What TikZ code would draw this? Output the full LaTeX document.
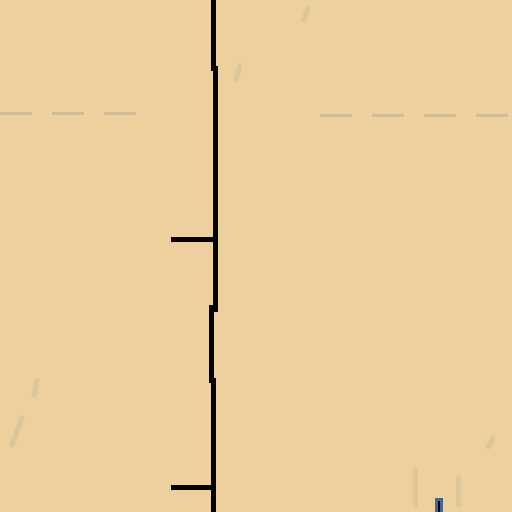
\documentclass[tikz,border=0pt]{standalone}
\usetikzlibrary{positioning}
\definecolor{mapSand}{RGB}{237, 208, 158}
\definecolor{mapFaint}{RGB}{208, 188, 150}
\definecolor{mapSmudge}{RGB}{220, 198, 156}
\definecolor{mapBlue}{RGB}{62, 104, 150}

\begin{document}
\begin{tikzpicture}[
  x=1pt, y=-1pt,
  wall/.style={line width=5pt, black},
  stub/.style={line width=5pt, black, line cap=rect},
  track/.style={line width=3pt, mapFaint, dash pattern=on 32pt off 20pt},
  smudge/.style={line width=5pt, mapSmudge, line cap=round}
]
  % ground
  \fill[mapSand] (0,0) rectangle (512,512);
  \useasboundingbox (0,0) rectangle (512,512);

  % faint tracks
  \draw[track] (0,113) -- (145,113);
  \draw[track] (320,115) -- (512,115);

  % smudges
  \draw[smudge] (236,80) -- (240,66);
  \draw[smudge] (304,20) -- (308,8);
  \draw[smudge] (12,445) -- (22,418);
  \draw[smudge] (34,395) -- (37,380);
  \draw[smudge] (415,505) -- (415,470);
  \draw[smudge] (458,505) -- (458,478);
  \draw[smudge] (488,447) -- (493,438);

  % main wall, stepped
  \draw[wall] (213.5,0) -- (213.5,68)
    -- (215,68) -- (215,224) -- (215.5,224) -- (215.5,312);
  \draw[wall] (211,305) -- (211,380) -- (213.5,380) -- (213.5,512);

  % stubs
  \draw[stub] (173,239) -- (214,239);
  \draw[stub] (173,487) -- (212,487);

  % blue marker
  \fill[mapBlue] (435,498) rectangle (443,512);
  \draw[line width=1.2pt, black] (439,501) -- (439,512);
\end{tikzpicture}
\end{document}
